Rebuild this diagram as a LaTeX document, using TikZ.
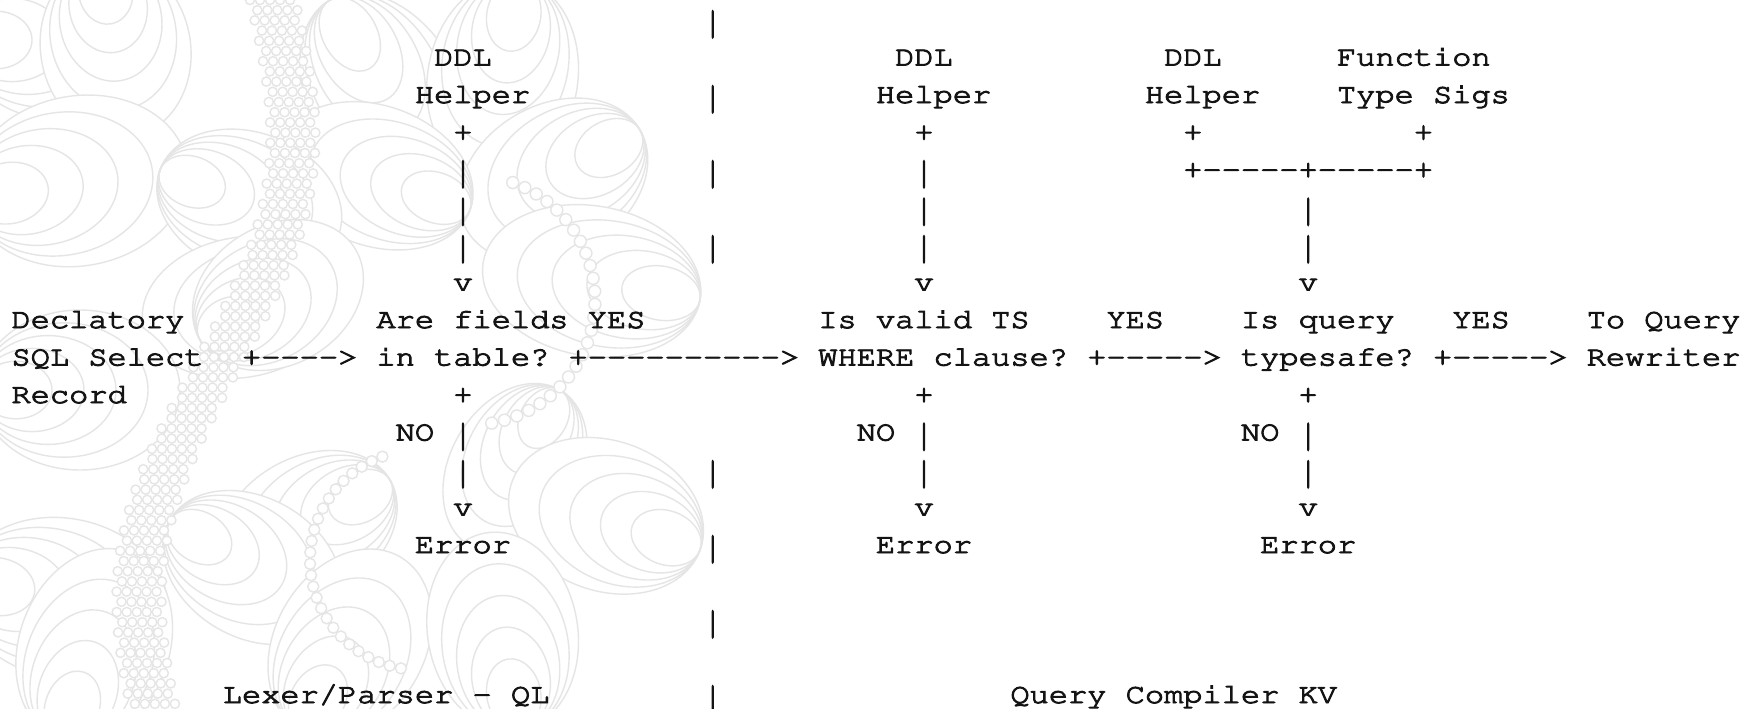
\documentclass[tikz,border=0pt]{standalone}
\usepackage[T1]{fontenc}
\usepackage{graphicx}

% Courier-like typewriter face for the character grid
\newcommand\monoface{\fontencoding{T1}\fontfamily{pcr}\fontseries{m}\fontshape{n}\fontsize{14}{18.75}\selectfont\frenchspacing}
% slightly heavier strokes for the glyphs (fill + stroke render mode)
\newcommand\heavy[1]{\special{pdf:literal direct 2 Tr 0.45 w}#1\special{pdf:literal direct 0 Tr}}
% a taller vertical bar, filling most of its text line
\newcommand\vbar{\raisebox{-2.7pt}{\scalebox{1}[1.35]{|}}}

% grid of the character cells (in px units of the picture)
\def\xorg{11.5}
\def\yorg{28}
\def\colw{19.21}
\def\rowh{37.5}
\def\hsc{1.1435}

\tikzset{
  asc/.style={anchor=base west, inner sep=0pt, outer sep=0pt, text=black!92, font=\monoface},
  bgline/.style={draw=black!10, line width=0.7pt},
}

% one run of characters starting at column #2 of row #3
\newcommand\gridtext[4]{\node[asc] (#1) at ({\xorg+(#2)*\colw},{\yorg+(#3)*\rowh}) {\scalebox{\hsc}[1]{\heavy{#4}}};}

% nested petal outlines meeting at a common base point
\newcommand\bgpetal[5]{%
  \begin{scope}[shift={(#1,#2)},rotate=#3]
    \fill[white] ({#4/2},0) ellipse ({#4/2} and {#5/2});
    \foreach \k in {1,0.84,0.68,0.52,0.36}{\draw[bgline] ({\k*#4/2},0) ellipse ({\k*#4/2} and {\k*#5/2});}
  \end{scope}}

\begin{document}
\begin{tikzpicture}[x=0.5pt,y=-0.5pt]
\useasboundingbox (0,0) rectangle (1758,708);
\fill[white] (0,0) rectangle (1758,708);

% ornamental line pattern on the left
\begin{scope}
  \clip (0,0) rectangle (780,708);
  \bgpetal{-40}{40}{0}{200}{160}
  \bgpetal{100}{-40}{-80}{180}{150}
  \bgpetal{330}{0}{-60}{220}{150}
  \bgpetal{520}{-20}{-100}{200}{150}
  \bgpetal{640}{130}{-150}{200}{150}
  \bgpetal{470}{210}{160}{200}{140}
  \bgpetal{-30}{200}{10}{220}{170}
  \bgpetal{160}{170}{-20}{190}{140}
  \bgpetal{340}{290}{-170}{200}{140}
  \bgpetal{700}{300}{170}{220}{150}
  \bgpetal{560}{390}{-120}{180}{130}
  \bgpetal{-20}{390}{0}{200}{160}
  \bgpetal{200}{340}{30}{180}{140}
  \bgpetal{390}{480}{-150}{190}{140}
  \bgpetal{700}{550}{160}{200}{150}
  \bgpetal{-40}{580}{-10}{210}{160}
  \bgpetal{170}{520}{-30}{190}{140}
  \bgpetal{300}{730}{60}{200}{150}
  \bgpetal{520}{730}{100}{200}{150}
  \bgpetal{60}{740}{70}{200}{150}
  % bead band running down the middle
  \foreach \i in {0,...,70}{
    \pgfmathsetmacro\yy{\i*10.2}
    \pgfmathsetmacro\xx{270-110*\i/70+45*sin(\i*5)+mod(\i,2)*5}
    \foreach \d in {-20,-10,0,10,20}{\fill[white] ({\xx+\d},\yy) circle (4.6); \draw[bgline] ({\xx+\d},\yy) circle (4.6);}
  }
  % bead arcs
  \foreach \a in {-70,-64,...,80}{\fill[white] ({470+125*cos(\a)},{300+125*sin(\a)}) circle (6); \draw[bgline] ({470+125*cos(\a)},{300+125*sin(\a)}) circle (6);}
  \foreach \a in {100,106,...,250}{\fill[white] ({420+110*cos(\a)},{560+110*sin(\a)}) circle (5.5); \draw[bgline] ({420+110*cos(\a)},{560+110*sin(\a)}) circle (5.5);}
\end{scope}

% row 0
\gridtext{divA}{36}{0}{\vbar}
% row 1
\gridtext{ddlA}{22}{1}{DDL}
\gridtext{ddlB}{46}{1}{DDL}
\gridtext{ddlC}{60}{1}{DDL}
\gridtext{funC}{69}{1}{Function}
% row 2
\gridtext{helpA}{21}{2}{Helper}
\gridtext{divB}{36}{2}{\vbar}
\gridtext{helpB}{45}{2}{Helper}
\gridtext{helpC}{59}{2}{Helper}
\gridtext{sigC}{69}{2}{Type Sigs}
% row 3
\gridtext{topA}{23}{3}{+}
\gridtext{topB}{47}{3}{+}
\gridtext{topC}{61}{3}{+}
\gridtext{topD}{73}{3}{+}
% row 4
\gridtext{inA1}{23}{4}{\vbar}
\gridtext{divC}{36}{4}{\vbar}
\gridtext{inB1}{47}{4}{\vbar}
\gridtext{join}{61}{4}{+-{}-{}-{}-{}-+-{}-{}-{}-{}-+}
% row 5
\gridtext{inA2}{23}{5}{\vbar}
\gridtext{inB2}{47}{5}{\vbar}
\gridtext{inC2}{67}{5}{\vbar}
% row 6
\gridtext{inA3}{23}{6}{\vbar}
\gridtext{divD}{36}{6}{\vbar}
\gridtext{inB3}{47}{6}{\vbar}
\gridtext{inC3}{67}{6}{\vbar}
% row 7
\gridtext{tipA}{23}{7}{v}
\gridtext{tipB}{47}{7}{v}
\gridtext{tipC}{67}{7}{v}
% row 8
\gridtext{srcA}{0}{8}{Declatory}
\gridtext{qA1}{19}{8}{Are fields}
\gridtext{yesA}{30}{8}{YES}
\gridtext{qB1}{42}{8}{Is valid TS}
\gridtext{yesB}{57}{8}{YES}
\gridtext{qC1}{64}{8}{Is query}
\gridtext{yesC}{75}{8}{YES}
\gridtext{outA}{82}{8}{To Query}
% row 9
\gridtext{srcB}{0}{9}{SQL Select}
\gridtext{arr0}{12}{9}{+-{}-{}-{}->}
\gridtext{qA2}{19}{9}{in table?}
\gridtext{arr1}{29}{9}{+-{}-{}-{}-{}-{}-{}-{}-{}-{}->}
\gridtext{qB2}{42}{9}{WHERE clause?}
\gridtext{arr2}{56}{9}{+-{}-{}-{}-{}->}
\gridtext{qC2}{64}{9}{typesafe?}
\gridtext{arr3}{74}{9}{+-{}-{}-{}-{}->}
\gridtext{outB}{82}{9}{Rewriter}
% row 10
\gridtext{srcC}{0}{10}{Record}
\gridtext{botA}{23}{10}{+}
\gridtext{botB}{47}{10}{+}
\gridtext{botC}{67}{10}{+}
% row 11
\gridtext{noA}{20}{11}{NO}
\gridtext{outA1}{23}{11}{\vbar}
\gridtext{noB}{44}{11}{NO}
\gridtext{outB1}{47}{11}{\vbar}
\gridtext{noC}{64}{11}{NO}
\gridtext{outC1}{67}{11}{\vbar}
% row 12
\gridtext{outA2}{23}{12}{\vbar}
\gridtext{divE}{36}{12}{\vbar}
\gridtext{outB2}{47}{12}{\vbar}
\gridtext{outC2}{67}{12}{\vbar}
% row 13
\gridtext{errtipA}{23}{13}{v}
\gridtext{errtipB}{47}{13}{v}
\gridtext{errtipC}{67}{13}{v}
% row 14
\gridtext{errA}{21}{14}{Error}
\gridtext{divF}{36}{14}{\vbar}
\gridtext{errB}{45}{14}{Error}
\gridtext{errC}{65}{14}{Error}
% row 16
\gridtext{divG}{36}{16}{\vbar}
% row 18
\gridtext{stageA}{11}{18}{Lexer/Parser - QL}
\gridtext{divH}{36}{18}{\vbar}
\gridtext{stageB}{52}{18}{Query Compiler KV}
\end{tikzpicture}
\end{document}
